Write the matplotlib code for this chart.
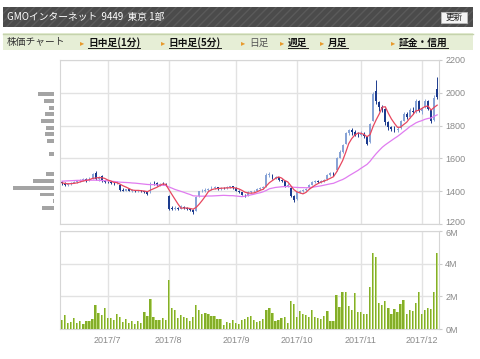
import matplotlib
matplotlib.use('Agg')
import matplotlib.pyplot as plt
from matplotlib.patches import Rectangle
from matplotlib.lines import Line2D
from matplotlib.transforms import ScaledTranslation
import numpy as np
import pandas as pd

plt.rcParams['font.family'] = ['Noto Sans CJK JP', 'DejaVu Sans']

W, H = 480, 359

# 東証の営業日 (2017/6/12 - 2017/12/8)
holidays = ['2017-07-17', '2017-08-11', '2017-09-18', '2017-10-09', '2017-11-03', '2017-11-23']
dates = pd.bdate_range('2017-06-12', '2017-12-08', freq='C', holidays=holidays)

# 日足 OHLC (月ごと)
opens = (
    [1460, 1450, 1440, 1445, 1450, 1458, 1468, 1470, 1475, 1468, 1480, 1510, 1478, 1495, 1462]
    + [1458, 1455, 1450, 1448, 1440, 1410, 1405, 1412, 1405, 1408, 1400, 1406, 1402, 1396, 1390, 1450, 1448, 1440, 1445, 1442]
    + [1370, 1298, 1290, 1302, 1295, 1308, 1300, 1290, 1285, 1280, 1370, 1400, 1405, 1410, 1415, 1422, 1425, 1415, 1420, 1418, 1425, 1430]
    + [1420, 1405, 1395, 1380, 1375, 1395, 1400, 1405, 1415, 1420, 1430, 1500, 1500, 1480, 1485, 1470, 1462, 1430, 1420, 1370]
    + [1355, 1395, 1400, 1410, 1418, 1440, 1460, 1465, 1458, 1462, 1475, 1500, 1510, 1530, 1605, 1640, 1690, 1755, 1770, 1760, 1745]
    + [1740, 1750, 1730, 1700, 1830, 2010, 1945, 1910, 1900, 1820, 1790, 1780, 1775, 1785, 1830, 1870, 1850, 1890, 1880, 1950]
    + [1890, 1910, 1950, 1895, 1835, 2020]
)
highs = (
    [1465, 1455, 1452, 1458, 1465, 1470, 1478, 1480, 1480, 1488, 1510, 1525, 1495, 1500, 1470]
    + [1465, 1462, 1458, 1462, 1442, 1418, 1415, 1415, 1412, 1410, 1410, 1410, 1405, 1398, 1460, 1462, 1455, 1452, 1455, 1450]
    + [1378, 1310, 1310, 1305, 1318, 1312, 1305, 1298, 1290, 1372, 1405, 1415, 1418, 1420, 1430, 1432, 1428, 1425, 1428, 1430, 1435, 1435]
    + [1425, 1410, 1398, 1385, 1400, 1405, 1410, 1418, 1425, 1430, 1510, 1520, 1505, 1492, 1488, 1478, 1465, 1448, 1425, 1375]
    + [1400, 1408, 1415, 1420, 1445, 1465, 1472, 1470, 1468, 1478, 1505, 1520, 1515, 1610, 1650, 1690, 1760, 1780, 1785, 1770, 1760]
    + [1765, 1760, 1735, 1815, 2005, 2075, 1950, 1925, 1905, 1825, 1800, 1795, 1790, 1835, 1885, 1880, 1905, 1910, 1960, 1955]
    + [1915, 1962, 1955, 1900, 1985, 2095]
)
lows = (
    [1440, 1430, 1435, 1440, 1448, 1452, 1460, 1462, 1460, 1465, 1475, 1470, 1465, 1455, 1450]
    + [1448, 1445, 1440, 1445, 1405, 1400, 1400, 1400, 1398, 1395, 1396, 1398, 1390, 1375, 1388, 1440, 1435, 1432, 1438, 1432]
    + [1285, 1285, 1288, 1288, 1292, 1295, 1285, 1278, 1265, 1278, 1365, 1395, 1398, 1402, 1410, 1415, 1410, 1410, 1412, 1415, 1420, 1415]
    + [1400, 1390, 1375, 1368, 1372, 1390, 1395, 1400, 1410, 1415, 1428, 1490, 1475, 1475, 1465, 1460, 1425, 1428, 1365, 1335]
    + [1350, 1390, 1398, 1402, 1415, 1438, 1452, 1450, 1450, 1458, 1472, 1495, 1495, 1525, 1600, 1635, 1685, 1740, 1745, 1735, 1730]
    + [1735, 1725, 1680, 1695, 1825, 1930, 1890, 1880, 1805, 1775, 1768, 1762, 1760, 1780, 1825, 1840, 1845, 1870, 1875, 1880]
    + [1870, 1905, 1895, 1815, 1830, 1960]
)
closes = (
    [1450, 1440, 1445, 1450, 1460, 1465, 1470, 1472, 1468, 1480, 1505, 1478, 1490, 1462, 1458]
    + [1455, 1450, 1448, 1455, 1410, 1405, 1412, 1405, 1408, 1400, 1406, 1402, 1396, 1385, 1450, 1448, 1440, 1445, 1442, 1438]
    + [1295, 1290, 1302, 1295, 1310, 1300, 1290, 1285, 1275, 1365, 1400, 1405, 1410, 1415, 1422, 1425, 1415, 1420, 1418, 1425, 1430, 1420]
    + [1405, 1395, 1380, 1375, 1395, 1400, 1405, 1415, 1420, 1425, 1500, 1505, 1480, 1485, 1470, 1465, 1430, 1440, 1370, 1350]
    + [1395, 1400, 1410, 1415, 1440, 1460, 1465, 1458, 1462, 1472, 1500, 1510, 1500, 1605, 1640, 1680, 1755, 1770, 1760, 1745, 1740]
    + [1750, 1735, 1690, 1810, 1990, 1950, 1910, 1900, 1820, 1790, 1780, 1775, 1780, 1825, 1870, 1850, 1895, 1880, 1950, 1890]
    + [1905, 1950, 1900, 1825, 1970, 1975]
)

# 移動平均 (5日 / 25日)
ma5 = [1452, 1448, 1446, 1447, 1449, 1452, 1458, 1463, 1467, 1471, 1479, 1481, 1484, 1483, 1479,
       1469, 1463, 1455, 1453, 1444, 1434, 1426, 1417, 1408, 1406, 1406, 1404, 1402, 1398, 1408,
       1416, 1424, 1434, 1445, 1443, 1412, 1382, 1353, 1324, 1298, 1299, 1299, 1296, 1292, 1303,
       1323, 1346, 1371, 1399, 1410, 1415, 1417, 1419, 1420, 1421, 1422, 1423, 1420, 1415, 1406,
       1395, 1390, 1389, 1391, 1398, 1407, 1413, 1433, 1453, 1466, 1479, 1488, 1481, 1466, 1458,
       1435, 1411, 1397, 1391, 1385, 1394, 1412, 1425, 1438, 1448, 1457, 1463, 1471, 1480, 1489,
       1517, 1551, 1587, 1636, 1690, 1721, 1742, 1754, 1753, 1746, 1732, 1745, 1795, 1835, 1870,
       1912, 1914, 1874, 1840, 1813, 1789, 1790, 1806, 1820, 1844, 1864, 1889, 1893, 1904, 1915,
       1919, 1894, 1910, 1924]
ma25 = [1462, 1463, 1464, 1465, 1466, 1467, 1467, 1468, 1468, 1468, 1468, 1468, 1467, 1466, 1465,
        1464, 1462, 1460, 1458, 1456, 1455, 1454, 1453, 1451, 1450, 1448, 1446, 1444, 1442, 1441,
        1441, 1440, 1438, 1437, 1436, 1427, 1420, 1412, 1406, 1400, 1394, 1387, 1381, 1373, 1372,
        1371, 1371, 1371, 1372, 1372, 1373, 1374, 1375, 1376, 1375, 1374, 1374, 1372, 1370, 1368,
        1371, 1375, 1379, 1383, 1388, 1392, 1398, 1406, 1416, 1420, 1424, 1426, 1428, 1429, 1430,
        1428, 1425, 1424, 1423, 1423, 1422, 1423, 1425, 1428, 1431, 1434, 1438, 1442, 1446, 1449,
        1457, 1465, 1472, 1482, 1494, 1505, 1516, 1527, 1540, 1552, 1564, 1583, 1607, 1629, 1649,
        1668, 1683, 1696, 1709, 1722, 1734, 1748, 1763, 1777, 1793, 1804, 1816, 1824, 1830, 1838,
        1843, 1846, 1856, 1865]

# 出来高 (百万株)
volume = (
    [0.57, 0.90, 0.40, 0.45, 0.69, 0.40, 0.52, 0.32, 0.52, 0.52, 0.65, 1.45, 1.00, 0.87, 1.27]
    + [0.69, 0.69, 0.57, 0.95, 0.75, 0.45, 0.60, 0.36, 0.48, 0.32, 0.48, 0.40, 1.03, 0.79, 1.86, 0.73, 0.57, 0.57, 0.69, 0.57]
    + [3.03, 1.27, 1.15, 0.69, 0.87, 0.75, 0.69, 0.48, 0.75, 1.45, 1.19, 0.91, 0.99, 0.91, 0.79, 0.83, 0.65, 0.61, 0.28, 0.44, 0.40, 0.57]
    + [0.40, 0.32, 0.57, 0.65, 0.73, 0.83, 0.57, 0.44, 0.52, 0.65, 1.15, 1.27, 0.99, 0.52, 0.57, 0.69, 0.73, 0.40, 1.70, 1.54]
    + [0.75, 1.11, 0.91, 0.87, 0.75, 1.15, 0.73, 0.69, 0.65, 0.83, 1.11, 0.52, 0.48, 2.06, 1.37, 2.30, 2.26, 1.40, 1.19, 2.22, 1.03]
    + [1.03, 0.91, 0.91, 2.60, 4.63, 4.42, 1.58, 1.50, 1.74, 1.27, 0.91, 1.23, 1.03, 1.54, 1.78, 0.95, 1.19, 1.11, 1.62, 2.26]
    + [0.91, 1.19, 1.27, 1.23, 2.26, 4.67]
)

# 価格帯別出来高 (左の灰色バー)
vp_price = [1990, 1950, 1909, 1868, 1827, 1787, 1747, 1706, 1625, 1504, 1462, 1422, 1381, 1342, 1300]
vp_volume = [16.0, 10.3, 5.3, 9.3, 13.3, 8.3, 9.3, 7.3, 5.3, 8.3, 21.3, 41.3, 14.3, 1.0, 12.3]

price_ticks = [1200, 1400, 1600, 1800, 2000, 2200]
vol_ticks = [0, 2, 4, 6]
vol_labels = ['0M', '2M', '4M', '6M']

nav_items = [('日中足(1分)', 82, True), ('日中足(5分)', 163, True), ('日足', 243, False),
             ('週足', 282, True), ('月足', 322, True), ('証金・信用', 393, True)]


def box(x0, y0, x1, y1):
    return [x0 / W, 1 - y1 / H, (x1 - x0) / W, (y1 - y0) / H]


fig = plt.figure(figsize=(W / 100, H / 100), dpi=100)
fig.patch.set_facecolor('white')

# ヘッダー
fig.add_artist(Rectangle((3 / W, 1 - 27.3 / H), 470 / W, 20.6 / H, transform=fig.transFigure,
                         facecolor='#4b4b4b', edgecolor='#5a5a5a', hatch='////', linewidth=0))
fig.text(7 / W, 1 - 17 / H, 'GMOインターネット  9449  東京 1部', color='white', fontsize=7,
         va='center', ha='left')
fig.add_artist(Rectangle((441 / W, 1 - 22.7 / H), 26 / W, 10.4 / H, transform=fig.transFigure,
                         facecolor='#f4f4f4', edgecolor='#bbbbbb', linewidth=0.6))
fig.text(454 / W, 1 - 17.5 / H, '更新', color='#222222', fontsize=6.2, va='center', ha='center')

# ナビゲーション
fig.add_artist(Rectangle((3 / W, 1 - 50 / H), 470 / W, 16.7 / H, transform=fig.transFigure,
                         facecolor='#e6eed6', edgecolor='none'))
fig.add_artist(Line2D([3 / W, 473 / W], [1 - 33.8 / H, 1 - 33.8 / H], transform=fig.transFigure,
                      color='#c5d3ad', lw=1.0))
fig.text(7 / W, 1 - 42.5 / H, '株価チャート', color='#333333', fontsize=7, va='center', ha='left')

renderer = fig.canvas.get_renderer()
for label, px, link in nav_items:
    fig.text(px / W, 1 - 42.5 / H, '▸', color='#e89a2c', fontsize=6, va='center', ha='center',
             family='DejaVu Sans')
    t = fig.text((px + 6) / W, 1 - 42.5 / H, label, fontsize=7, va='center', ha='left',
                 color='#111111' if link else '#555555', weight='bold' if link else 'normal')
    if link:
        bb = t.get_window_extent(renderer)
        fig.add_artist(Line2D([bb.x0 / W, bb.x1 / W], [(H - 47.8) / H, (H - 47.8) / H],
                              transform=fig.transFigure, color='#222222', lw=0.7))

x = np.arange(len(dates))
month_idx = [i for i in range(1, len(dates)) if dates[i].month != dates[i - 1].month]
month_labels = [f'{dates[i].year}/{dates[i].month}' for i in month_idx]

grid_color = '#e2e2e2'
label_color = '#8a8a8a'
tick_font = dict(family='Liberation Sans', size=6.5)

# ローソク足
ax_p = fig.add_axes(box(60, 59.7, 439, 224.3))
o = np.array(opens)
c = np.array(closes)
up = c >= o
colors = np.where(up, '#87a3d6', '#1c3b8e')
bottom = np.minimum(o, c)
height = np.maximum(np.abs(c - o), 3)
ax_p.vlines(x, lows, highs, colors=colors, lw=0.7, zorder=3)
ax_p.bar(x, height, bottom=bottom, width=0.62, color=colors, linewidth=0, zorder=3)
ax_p.plot(x, ma25, color='#e07cf0', lw=0.9, zorder=4)
ax_p.plot(x, ma5, color='#e8475f', lw=0.9, zorder=5)

ax_p.set_xlim(-0.66, 123.6)
ax_p.set_ylim(1200, 2200)
ax_p.set_yticks(price_ticks)
ax_p.set_xticks(month_idx)
ax_p.tick_params(axis='x', length=0, labelbottom=False)
ax_p.yaxis.tick_right()
ax_p.tick_params(axis='y', length=2, width=0.8, color='#cccccc', pad=2.5, labelcolor=label_color)
for lab in ax_p.get_yticklabels():
    lab.set_fontproperties(tick_font)
# 一番下の「1200」は出来高欄の「6M」と重ならないよう少し上へ
ylabs = ax_p.get_yticklabels()
ylabs[0].set_transform(ylabs[0].get_transform() + ScaledTranslation(0, 1.8 / 72, fig.dpi_scale_trans))
ax_p.grid(True, color=grid_color, lw=1.0, zorder=0)
for s in ax_p.spines.values():
    s.set_color('#d6d6d6')
    s.set_linewidth(0.8)

# 出来高
ax_v = fig.add_axes(box(60, 230.7, 439, 329.3))
vol = np.array(volume)
ax_v.bar(x, vol, width=0.75, color='#bcd97a', linewidth=0, zorder=3)
ax_v.bar(x - 0.375, vol, width=0.42, align='edge', color='#84ae28', linewidth=0, zorder=3)
ax_v.set_xlim(-0.66, 123.6)
ax_v.set_ylim(0, 6)
ax_v.set_yticks(vol_ticks)
ax_v.set_yticklabels(vol_labels)
ax_v.set_xticks(month_idx)
ax_v.set_xticklabels(month_labels)
ax_v.yaxis.tick_right()
ax_v.tick_params(axis='y', length=2, width=0.8, color='#cccccc', pad=2.5, labelcolor=label_color)
ax_v.tick_params(axis='x', length=0, pad=5, labelcolor=label_color)
for lab in ax_v.get_yticklabels() + ax_v.get_xticklabels():
    lab.set_fontproperties(tick_font)
vlabs = ax_v.get_yticklabels()
vlabs[-1].set_transform(vlabs[-1].get_transform() + ScaledTranslation(0, -1.6 / 72, fig.dpi_scale_trans))
ax_v.grid(True, color=grid_color, lw=1.0, zorder=0)
for s in ax_v.spines.values():
    s.set_color('#d6d6d6')
    s.set_linewidth(0.8)

# 価格帯別出来高
ax_h = fig.add_axes(box(0, 59.7, 54.3, 224.3))
ax_h.barh(vp_price, vp_volume, height=24, left=0, color='#a4a4a4', linewidth=0)
ax_h.set_xlim(54.3, 0)
ax_h.set_ylim(1200, 2200)
ax_h.axis('off')

fig.savefig('out.png', dpi=100)
